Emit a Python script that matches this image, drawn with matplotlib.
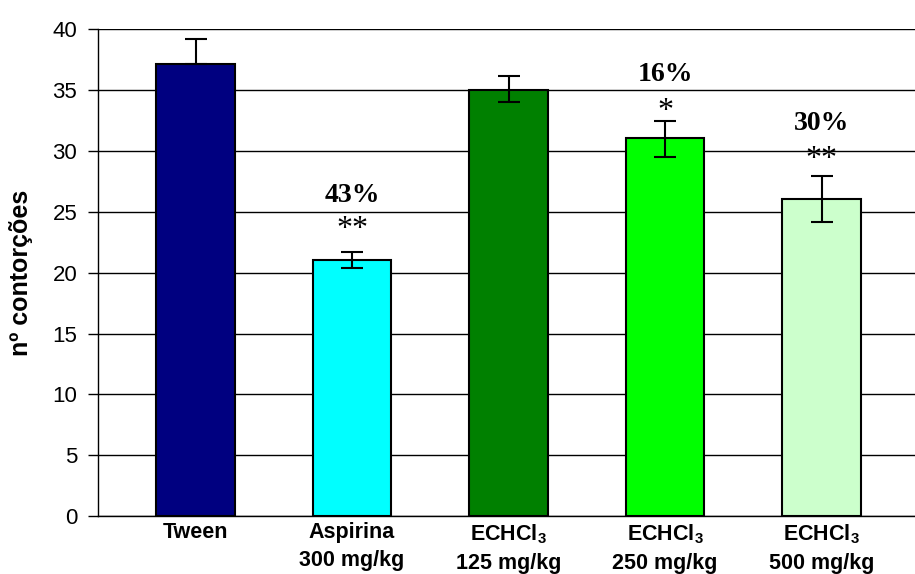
import numpy as np
import matplotlib
matplotlib.use("Agg")
import matplotlib.pyplot as plt

plt.rcParams["font.family"] = ["Liberation Sans", "DejaVu Sans"]
plt.rcParams["mathtext.fontset"] = "custom"
plt.rcParams["mathtext.rm"] = "Liberation Sans:bold"
plt.rcParams["mathtext.bf"] = "Liberation Sans:bold"

# data
labels = ["Tween", "Aspirina\n300 mg/kg", "ECHCl$_3$\n125 mg/kg",
          "ECHCl$_3$\n250 mg/kg", "ECHCl$_3$\n500 mg/kg"]
means = [37.1, 21.0, 34.95, 31.0, 26.05]
err_hi = [2.05, 0.7, 1.15, 1.45, 1.9]
err_lo = [0.0, 0.6, 1.0, 1.5, 1.95]
colors = ["#000080", "#00FFFF", "#008000", "#00FF00", "#CCFFCC"]
pct_labels = ["", "43%", "", "16%", "30%"]
sig_labels = ["", "**", "", "*", "**"]
pct_y = [0, 26.35, 0, 36.2, 32.25]
sig_y = [0, 23.5, 0, 33.2, 29.3]

fig = plt.figure(figsize=(9.15, 5.74), dpi=100)
ax = fig.add_axes([0.1071, 0.1002, 0.8929, 0.8501])

x = np.arange(len(means))
ax.bar(x, means, width=0.5, color=colors, edgecolor="black", linewidth=1.5, zorder=2)
ax.errorbar(x, means, yerr=[err_lo, err_hi], fmt="none", ecolor="black",
            elinewidth=1.5, capsize=8, capthick=1.5, zorder=3)

for i in range(len(means)):
    if pct_labels[i]:
        ax.text(x[i], pct_y[i], pct_labels[i], ha="center", va="center",
                fontsize=20, fontweight="bold", family="Liberation Serif")
        ax.text(x[i], sig_y[i], sig_labels[i], ha="center", va="center",
                fontsize=23, family="Liberation Serif")

ax.set_xlim(-0.623, 4.597)
ax.set_ylim(0, 40)
ax.set_yticks(np.arange(0, 41, 5))
ax.set_xticks(x)
ax.set_xticklabels(labels, fontsize=15.5, fontweight="bold", linespacing=1.45)
ax.tick_params(axis="x", length=0, pad=4)
ax.tick_params(axis="y", labelsize=16, length=7, width=1, pad=8)
ax.yaxis.grid(True, color="black", linewidth=1, zorder=0)
ax.set_axisbelow(True)
for s in ["top", "right"]:
    ax.spines[s].set_visible(False)
ax.spines["left"].set_linewidth(1)
ax.spines["bottom"].set_linewidth(1)
ax.set_ylabel("nº contorções", fontsize=18, fontweight="bold", labelpad=14)

fig.savefig("out.png", dpi=100)
